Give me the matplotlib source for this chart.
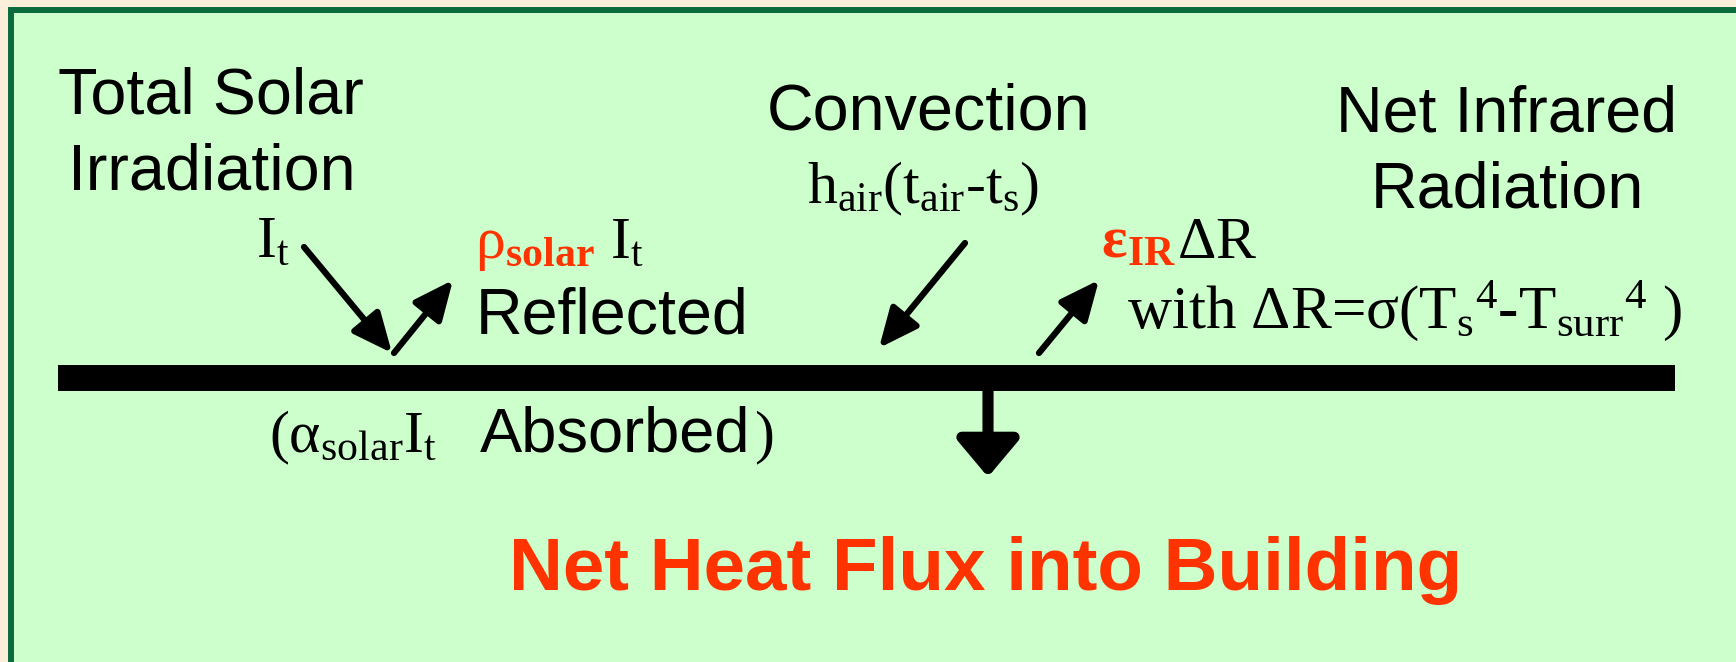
import matplotlib

matplotlib.use("Agg")
import matplotlib.pyplot as plt  # noqa: E402
from matplotlib.patches import Rectangle  # noqa: E402

# canvas in pixel units of the reference (1736 x 662)
W, H = 1736, 662

BEIGE = "#fcefd9"
PANEL = "#ccffcc"
EDGE = "#0b6b3c"
RED = "#ff3300"
SANS = "Liberation Sans"

plt.rcParams["mathtext.fontset"] = "custom"
plt.rcParams["mathtext.rm"] = "Liberation Serif"
plt.rcParams["mathtext.it"] = "Liberation Serif:italic"
plt.rcParams["mathtext.bf"] = "Liberation Serif:bold"
plt.rcParams["mathtext.sf"] = "Liberation Sans"

# sans labels: (text, x, baseline, ha, size)
sans_labels = [
    ("Total Solar", 211, 113, "center", 46.5),
    ("Irradiation", 212, 190, "center", 46.5),
    ("Convection", 929, 130, "center", 46.5),
    ("Net Infrared", 1507, 132, "center", 46.5),
    ("Radiation", 1507, 208, "center", 46.5),
    ("Reflected", 476, 333, "left", 46.5),
    ("Absorbed", 480, 452, "left", 45.5),
]

# serif / math labels: (text, x, baseline, colour, size)
math_labels = [
    (r"$\mathrm{I_t}$", 256, 257, "black", 43),
    (r"$\mathrm{ρ}_{\mathbf{solar}}$", 475, 258, RED, 43),
    (r"$\mathrm{I_t}$", 610, 258, "black", 43),
    (r"$\mathrm{h_{air}(t_{air}}\text{-}\mathrm{t_s)}$", 807, 203, "black", 43),
    (r"$\mathbf{ε}_{\mathbf{IR}}$", 1101, 258, RED, 43),
    (r"$\mathrm{ΔR}$", 1177, 258, "black", 43),
    (r"$\text{with ΔR=σ(T}_{\mathrm{s}}{}^{\mathrm{4}}\text{-T}_{\mathrm{surr}}{}^{\mathrm{4}}\text{ )}$",
     1127, 328, "black", 44),
    (r"$\mathrm{(α_{solar}I_t}$", 269, 452, "black", 43),
    (r"$\mathrm{)}$", 754, 452, "black", 43),
]

# arrows: (tail, tip)
flux_arrows = [
    ((304, 247), (392, 353)),   # incident solar
    ((394, 353), (453, 280)),   # reflected
    ((965, 243), (879, 348)),   # convection
    ((1039, 353), (1099, 280)), # infrared
]
into_building = ((988, 391), (988, 477))

fig = plt.figure(figsize=(W / 100, H / 100), dpi=100, facecolor=BEIGE)
ax = fig.add_axes([0, 0, 1, 1])
ax.set_xlim(0, W)
ax.set_ylim(H, 0)
ax.axis("off")

ax.add_patch(Rectangle((11, 10), W + 40, H + 40, facecolor=PANEL, edgecolor=EDGE, lw=4.3))
# the surface
ax.add_patch(Rectangle((58, 365), 1617, 26, facecolor="black", edgecolor="none"))

for txt, x, y, ha, size in sans_labels:
    ax.text(x, y, txt, ha=ha, va="baseline", fontsize=size, family=SANS)

for txt, x, y, c, size in math_labels:
    ax.text(x, y, txt, ha="left", va="baseline", fontsize=size, color=c)

for tail, tip in flux_arrows:
    ax.annotate("", xy=tip, xytext=tail,
                arrowprops=dict(arrowstyle="-|>,head_length=0.6,head_width=0.27",
                                mutation_scale=40, lw=4.5, color="black",
                                shrinkA=0, shrinkB=0))
ax.annotate("", xy=into_building[1], xytext=into_building[0],
            arrowprops=dict(arrowstyle="-|>,head_length=0.56,head_width=0.47",
                            mutation_scale=40, lw=8, color="black",
                            shrinkA=0, shrinkB=0))

ax.text(986, 590, "Net Heat Flux into Building", ha="center", va="baseline",
        fontsize=53.7, fontweight="bold", color=RED, family=SANS)

fig.savefig("out.png", dpi=100, facecolor=BEIGE)
